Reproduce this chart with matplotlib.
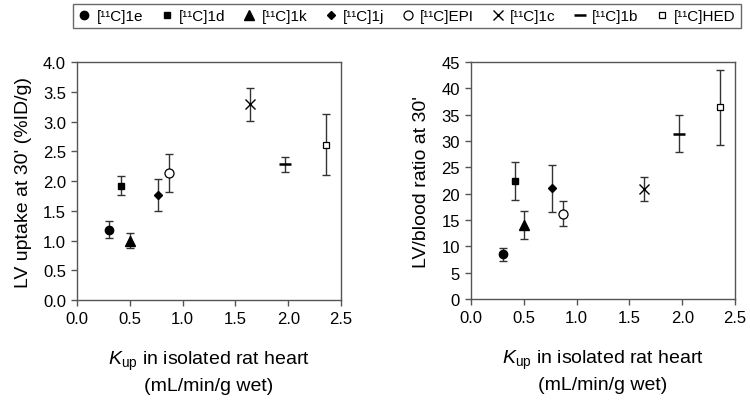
import matplotlib
matplotlib.use("Agg")
import matplotlib.pyplot as plt

plt.rcParams['font.family'] = ['Liberation Sans', 'DejaVu Sans']
plt.rcParams['mathtext.fontset'] = 'custom'
plt.rcParams['mathtext.rm'] = 'Liberation Sans'
plt.rcParams['mathtext.it'] = 'Liberation Sans:italic'

labels = ['[¹¹C]1e', '[¹¹C]1d', '[¹¹C]1k', '[¹¹C]1j',
          '[¹¹C]EPI', '[¹¹C]1c', '[¹¹C]1b', '[¹¹C]HED']
kup = [0.30, 0.42, 0.505, 0.77, 0.87, 1.64, 1.97, 2.36]
uptake = [1.18, 1.92, 1.00, 1.76, 2.14, 3.29, 2.28, 2.61]
uptake_err = [0.14, 0.16, 0.12, 0.27, 0.32, 0.28, 0.12, 0.51]
ratio = [8.5, 22.4, 14.1, 21.0, 16.2, 20.9, 31.4, 36.4]
ratio_err = [1.2, 3.6, 2.7, 4.5, 2.4, 2.2, 3.5, 7.1]

styles = [
    dict(marker='o', mfc='black', mec='black', ms=6),
    dict(marker='s', mfc='black', mec='black', ms=5),
    dict(marker='^', mfc='black', mec='black', ms=6.5),
    dict(marker='D', mfc='black', mec='black', ms=4.5),
    dict(marker='o', mfc='white', mec='black', ms=6.5, mew=0.9),
    dict(marker='x', mfc='black', mec='black', ms=7, mew=1.0),
    dict(marker='_', mfc='black', mec='black', ms=9, mew=1.8),
    dict(marker='s', mfc='white', mec='black', ms=5, mew=0.9),
]

fig = plt.figure(figsize=(7.5, 4.02), dpi=100)
ax1 = fig.add_axes([0.1027, 0.2512, 0.352, 0.592])
ax2 = fig.add_axes([0.628, 0.2537, 0.352, 0.5896])

handles = []
for ax, yv, ye in [(ax1, uptake, uptake_err), (ax2, ratio, ratio_err)]:
    for i in range(len(kup)):
        ax.errorbar([kup[i]], [yv[i]], yerr=[ye[i]], fmt='none', ecolor='#333333',
                    elinewidth=1.0, capsize=3, capthick=1.0, zorder=2)
        h, = ax.plot([kup[i]], [yv[i]], linestyle='none', zorder=3,
                     label=labels[i], **styles[i])
        if ax is ax1:
            handles.append(h)
    ax.set_xlim(0, 2.5)
    ax.set_xticks([0.0, 0.5, 1.0, 1.5, 2.0, 2.5])
    ax.set_xticklabels(['0.0', '0.5', '1.0', '1.5', '2.0', '2.5'])
    for s in ax.spines.values():
        s.set_color('#555555')
        s.set_linewidth(1.0)
    ax.tick_params(direction='out', length=4, width=1.0, color='#555555',
                   labelsize=12, pad=4)
    ax.set_xlabel('$\\mathit{K}_{\\mathrm{up}}$ in isolated rat heart\n(mL/min/g wet)',
                  fontsize=14, labelpad=16, linespacing=1.45)

ax1.set_ylim(0, 4.0)
ax1.set_yticks([0.0, 0.5, 1.0, 1.5, 2.0, 2.5, 3.0, 3.5, 4.0])
ax1.set_yticklabels(['0.0', '0.5', '1.0', '1.5', '2.0', '2.5', '3.0', '3.5', '4.0'])
ax1.set_ylabel("LV uptake at 30' (%ID/g)", fontsize=14, labelpad=8)

ax2.set_ylim(0, 45)
ax2.set_yticks(range(0, 46, 5))
ax2.set_ylabel("LV/blood ratio at 30'", fontsize=14, labelpad=8)

leg = fig.legend(handles=handles, loc='center', bbox_to_anchor=(0.5427, 0.958),
                 ncol=8, fontsize=11, frameon=True, fancybox=False,
                 handlelength=0.8, handletextpad=0.4, columnspacing=1.15,
                 borderpad=0.35, borderaxespad=0)
leg.get_frame().set_edgecolor('#444444')
leg.get_frame().set_linewidth(1.0)

fig.savefig('out.png', dpi=100)
